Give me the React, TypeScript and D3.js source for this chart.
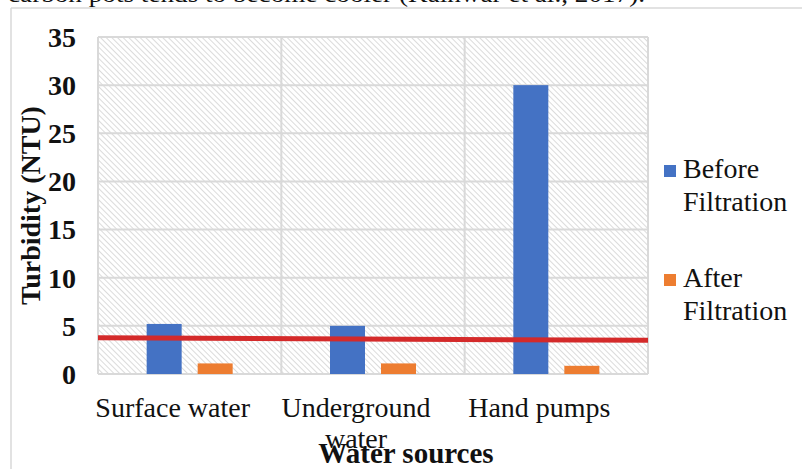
import React from "react";
import * as d3 from "d3";

const categories = ["Surface water", "Underground water", "Hand pumps"];
const seriesNames = ["Before Filtration", "After Filtration"];
const beforeValues = [5.2, 5.0, 30.0];
const afterValues = [1.1, 1.1, 0.85];
const yTicks = [0, 5, 10, 15, 20, 25, 30, 35];
const limitLine = [3.77, 3.5];
const colors = ["#4472C4", "#ED7D31"];

const W = 802;
const H = 469;
const plot = { left: 98, top: 37, right: 648, bottom: 374 };
const serif = "'Liberation Serif', 'Times New Roman', serif";

export default function App() {
  const x = d3.scaleBand<string>().domain(categories).range([plot.left, plot.right]).padding(0);
  const y = d3.scaleLinear().domain([0, 35]).range([plot.bottom, plot.top]);
  const cw = x.bandwidth();
  const x1 = d3
    .scaleBand<string>()
    .domain(seriesNames)
    .range([cw / 2 - 43, cw / 2 + 43])
    .paddingInner(0.314)
    .paddingOuter(0);
  const values = [beforeValues, afterValues];
  const lineGen = d3
    .line<number>()
    .x((_, i) => (i === 0 ? plot.left : plot.right))
    .y((d) => y(d));

  const labelLines = (c: string) => (c === "Underground water" ? ["Underground", "water"] : [c]);
  const tStyle = { fontFamily: serif };

  return (
    <svg
      width={W}
      height={H}
      style={{ position: "absolute", left: 0, top: 0, background: "#fff" }}
    >
      <defs>
        <pattern id="hatch" width="4" height="4" patternUnits="userSpaceOnUse" patternTransform="rotate(-45)">
          <rect width="4" height="4" fill="#ffffff" />
          <line x1="0" y1="0" x2="0" y2="4" stroke="#c8c8c8" strokeWidth="1.3" />
        </pattern>
      </defs>
      <rect x={0} y={0} width={W} height={H} fill="#fff" />
      {/* partial paragraph text at top */}
      <text x={8} y={2} fontSize={23} fill="#111" style={tStyle} textLength={637} lengthAdjust="spacingAndGlyphs">
        carbon pots tends to become cooler (Kalhwar et al., 2017).
      </text>
      {/* outer frame */}
      <line x1={11} y1={8} x2={W} y2={8} stroke="#d9d9d9" strokeWidth={1.5} />
      <line x1={11} y1={8} x2={11} y2={H} stroke="#d9d9d9" strokeWidth={1.5} />

      {/* plot area */}
      <rect
        x={plot.left}
        y={plot.top}
        width={plot.right - plot.left}
        height={plot.bottom - plot.top}
        fill="url(#hatch)"
      />
      {yTicks.map((t) => (
        <line key={"g" + t} x1={plot.left} x2={plot.right} y1={y(t)} y2={y(t)} stroke="#d9d9d9" strokeWidth={2} />
      ))}
      {categories.map((c) => (
        <line
          key={"v" + c}
          x1={x(c)!}
          x2={x(c)!}
          y1={plot.top}
          y2={plot.bottom}
          stroke="#d9d9d9"
          strokeWidth={2}
        />
      ))}
      <line x1={plot.right} x2={plot.right} y1={plot.top} y2={plot.bottom} stroke="#d9d9d9" strokeWidth={2} />

      {/* bars */}
      {categories.map((c, ci) =>
        seriesNames.map((s, si) => {
          const v = values[si][ci];
          return (
            <rect
              key={c + s}
              x={x(c)! + x1(s)!}
              y={y(v)}
              width={x1.bandwidth()}
              height={y(0) - y(v)}
              fill={colors[si]}
            />
          );
        })
      )}

      {/* limit line */}
      <path d={lineGen(limitLine)!} stroke="#D42A2A" strokeWidth={5} fill="none" />

      {/* y tick labels */}
      {yTicks.map((t) => (
        <text
          key={"t" + t}
          x={76}
          y={y(t)}
          dy="0.35em"
          textAnchor="end"
          fontSize={28}
          fontWeight="bold"
          fill="#111"
          style={tStyle}
        >
          {t}
        </text>
      ))}

      {/* x labels */}
      {categories.map((c) =>
        labelLines(c).map((ln, li) => (
          <text
            key={c + li}
            x={x(c)! + cw / 2 - 17}
            y={417 + li * 31}
            textAnchor="middle"
            fontSize={28}
            fill="#111"
            style={tStyle}
          >
            {ln}
          </text>
        ))
      )}

      {/* axis titles */}
      <text x={406} y={463} textAnchor="middle" fontSize={29} fontWeight="bold" fill="#111" style={tStyle}>
        Water sources
      </text>
      <text
        transform={`translate(40, ${(plot.top + plot.bottom) / 2}) rotate(-90)`}
        textAnchor="middle"
        fontSize={28}
        fontWeight="bold"
        fill="#111"
        style={tStyle}
      >
        Turbidity (NTU)
      </text>

      {/* legend */}
      {seriesNames.map((s, i) => {
        const base = i === 0 ? 178 : 287;
        const words = s.split(" ");
        return (
          <g key={s}>
            <rect x={664} y={base - 13} width={12} height={12} fill={colors[i]} />
            {words.map((w, wi) => (
              <text key={w} x={683} y={base + wi * 33} fontSize={28} fill="#111" style={tStyle}>
                {w}
              </text>
            ))}
          </g>
        );
      })}
    </svg>
  );
}
